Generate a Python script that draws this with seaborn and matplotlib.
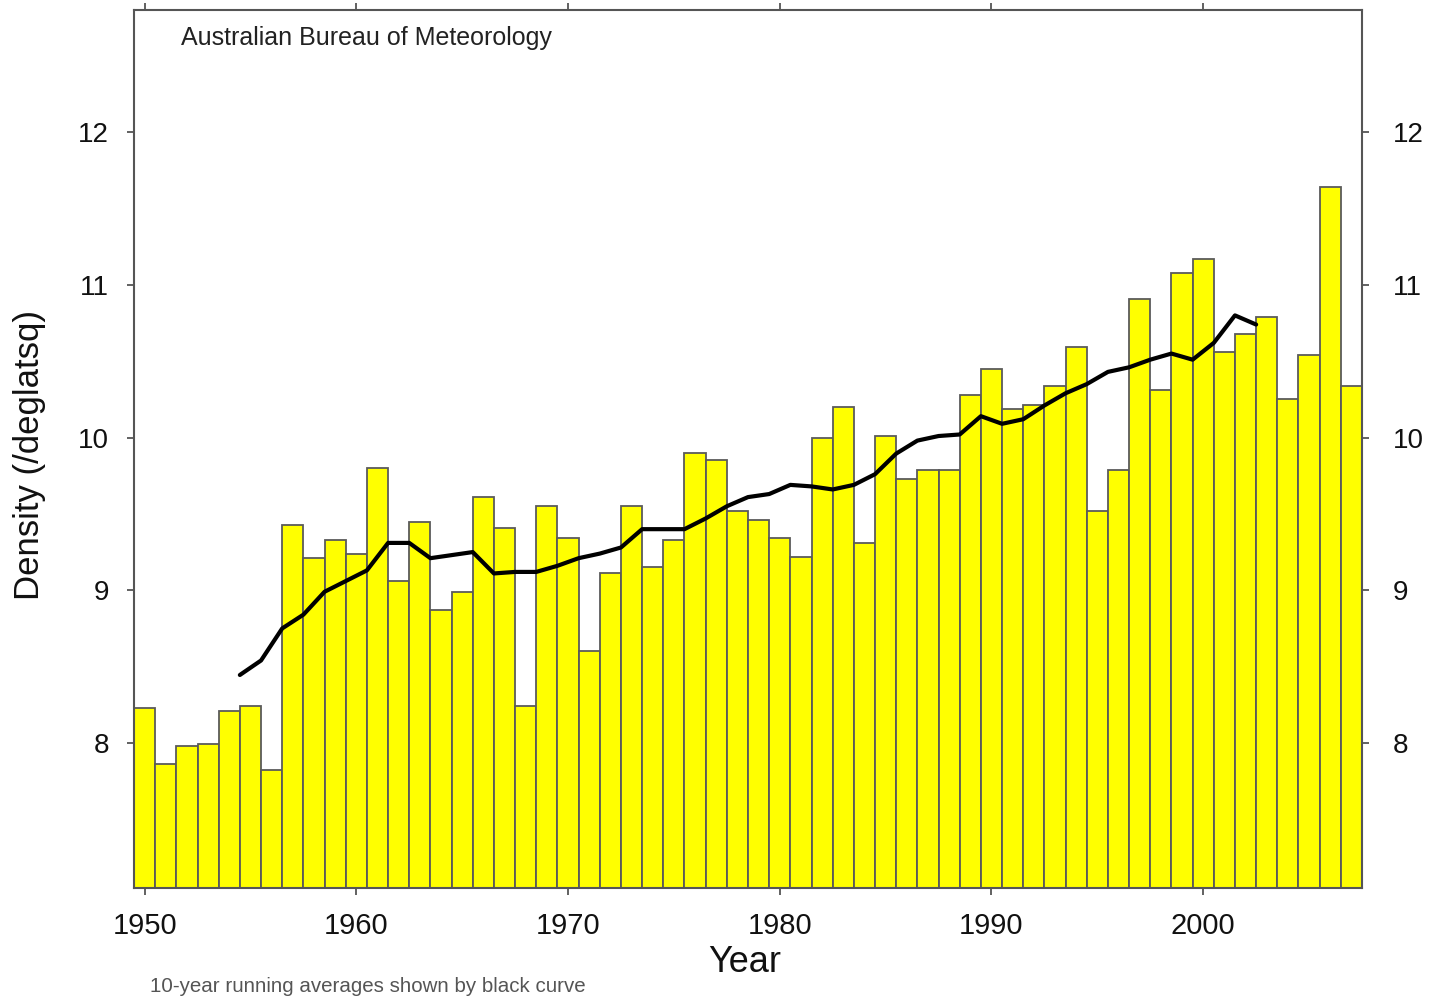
import numpy as np
import pandas as pd
import matplotlib
matplotlib.use("Agg")
import matplotlib.pyplot as plt
import seaborn as sns

# ---- data ----
years = list(range(1950, 2008))
density = [
    8.23, 7.86, 7.98, 7.99, 8.21, 8.24, 7.82, 9.43, 9.21, 9.33,   # 1950-59
    9.24, 9.80, 9.06, 9.45, 8.87, 8.99, 9.61, 9.41, 8.24, 9.55,   # 1960-69
    9.34, 8.60, 9.11, 9.55, 9.15, 9.33, 9.90, 9.85, 9.52, 9.46,   # 1970-79
    9.34, 9.22, 10.00, 10.20, 9.31, 10.01, 9.73, 9.79, 9.79, 10.28,  # 1980-89
    10.45, 10.19, 10.21, 10.34, 10.59, 9.52, 9.79, 10.91, 10.31, 11.08,  # 1990-99
    11.17, 10.56, 10.68, 10.79, 10.25, 10.54, 11.64, 10.34,  # 2000-07
]
avg_years = [y + 0.5 for y in range(1954, 2003)]
running_avg = [
    8.445, 8.54, 8.75, 8.84, 8.99, 9.06, 9.13, 9.31, 9.31, 9.21,
    9.23, 9.25, 9.11, 9.12, 9.12, 9.16, 9.21, 9.24, 9.28, 9.40,
    9.40, 9.40, 9.47, 9.55, 9.61, 9.63, 9.69, 9.68, 9.66, 9.69,
    9.76, 9.895, 9.98, 10.01, 10.02, 10.14, 10.09, 10.12, 10.21, 10.29,
    10.35, 10.43, 10.46, 10.51, 10.55, 10.51, 10.62, 10.80, 10.74,
]
x_ticks = [1950, 1960, 1970, 1980, 1990, 2000]
y_ticks = [8, 9, 10, 11, 12]

title_text = "Australian Bureau of Meteorology"
footer_text = "10-year running averages shown by black curve"

# ---- style ----
sns.set_theme(style="white")
plt.rcParams["font.family"] = ["Liberation Sans", "DejaVu Sans"]

fig = plt.figure(figsize=(14.36, 9.98), dpi=100)
ax = fig.add_axes([134 / 1436, 1 - 888 / 998, 1228 / 1436, 878 / 998])

bars = pd.DataFrame({"year": years, "density": density})
line = pd.DataFrame({"year": avg_years, "avg": running_avg})

sns.barplot(data=bars, x="year", y="density", native_scale=True, width=1.0,
            color="#FFFF00", saturation=1, edgecolor="#5a5a5a", linewidth=1.3,
            ax=ax, zorder=2)
sns.lineplot(data=line, x="year", y="avg", color="black", linewidth=3.0,
             ax=ax, zorder=3)

ax.set_xlim(1949.5, 2007.5)
ax.set_ylim(7.05, 12.8)
ax.set_xticks(x_ticks)
ax.set_yticks(y_ticks)
ax.set_xticklabels([str(v) for v in x_ticks])
ax.set_yticklabels([str(v) for v in y_ticks])

for s in ax.spines.values():
    s.set_color("#555555")
    s.set_linewidth(1.5)
    s.set_visible(True)

ax.tick_params(axis="x", which="major", direction="out", length=5, width=1.3,
               color="#555555", bottom=True, top=True, labelbottom=True,
               labeltop=False, labelsize=21, labelcolor="#111111", pad=12)
ax.tick_params(axis="y", which="major", direction="out", length=5, width=1.3,
               color="#555555", left=True, right=False, labelleft=True,
               labelright=False, labelsize=20, labelcolor="#111111", pad=13)

# right-hand axis with the same scale
ax2 = ax.twinx()
ax2.set_ylim(ax.get_ylim())
ax2.set_yticks(y_ticks)
ax2.set_yticklabels([str(v) for v in y_ticks])
ax2.tick_params(axis="y", direction="out", length=5, width=1.3, color="#555555",
                right=True, labelright=True, labelsize=20,
                labelcolor="#111111", pad=17)
ax2.grid(False)
for s in ax2.spines.values():
    s.set_visible(False)

ax.set_xlabel("Year", fontsize=26, color="#111111", va="center")
ax.xaxis.set_label_coords((745 - 134) / 1228, (888 - 963) / 878)
ax.set_ylabel("Density (/deglatsq)", fontsize=25, color="#111111", va="center")
ax.yaxis.set_label_coords((30 - 134) / 1228, (888 - 455) / 878)

ax.grid(False)

fig.text(181 / 1436, 1 - 38 / 998, title_text, fontsize=18, color="#222222",
         ha="left", va="center")
fig.text(150 / 1436, 1 - 987 / 998, footer_text, fontsize=14.8,
         color="#555555", ha="left", va="center")

fig.savefig("out.png", dpi=100)
